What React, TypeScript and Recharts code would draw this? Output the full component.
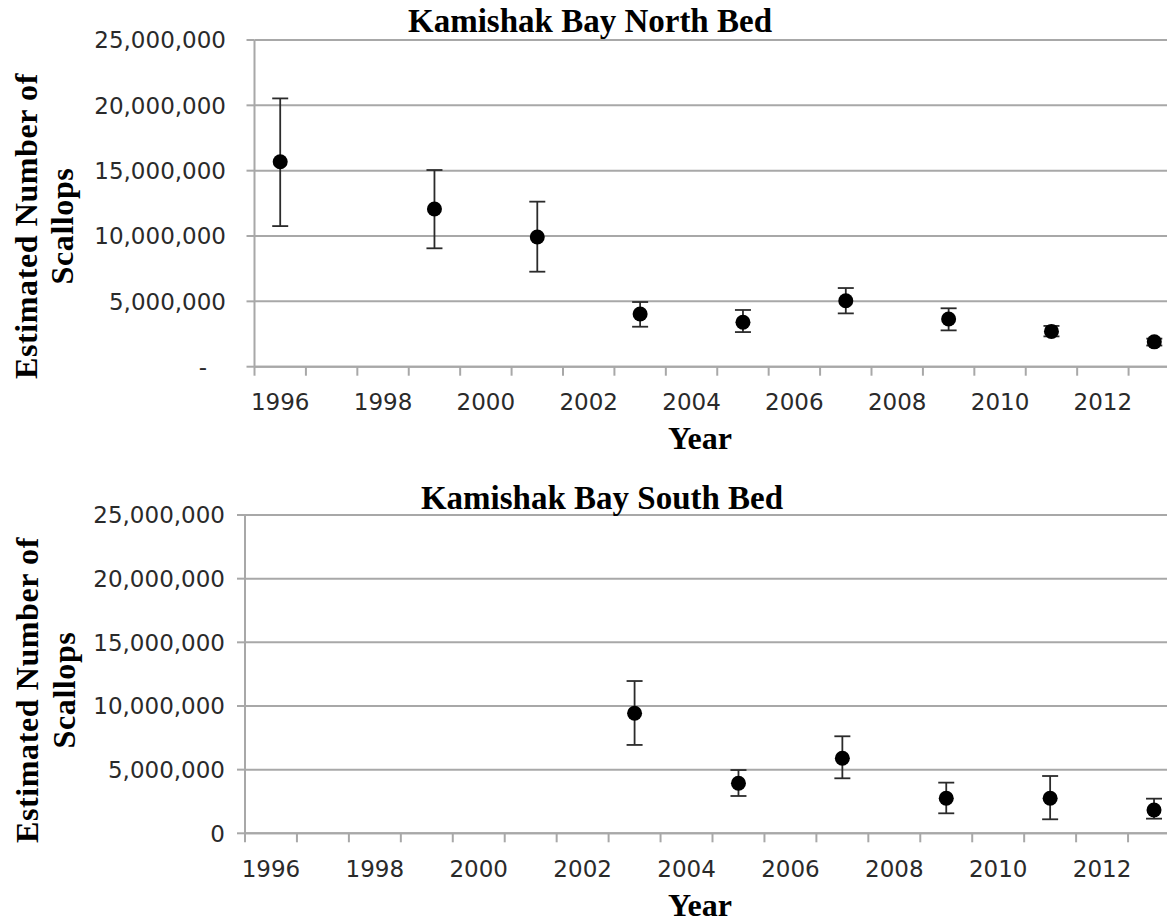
import React from 'react';
import { ScatterChart, Scatter, XAxis, YAxis, CartesianGrid, ErrorBar } from 'recharts';

// Categories (survey years on a category-style axis)
const categoryBounds = [1995.5, 1996.5, 1997.5, 1998.5, 1999.5, 2000.5, 2001.5, 2002.5, 2003.5, 2004.5, 2005.5, 2006.5, 2007.5, 2008.5, 2009.5, 2010.5, 2011.5, 2012.5, 2013.5];
const labelYears = [1996, 1998, 2000, 2002, 2004, 2006, 2008, 2010, 2012];
const yTicks = [0, 5000000, 10000000, 15000000, 20000000, 25000000];

// North Bed
const northYears = [1996, 1999, 2001, 2003, 2005, 2007, 2009, 2011, 2013];
const northEstimate = [15680000, 12070000, 9920000, 4030000, 3400000, 5050000, 3650000, 2700000, 1900000];
const northLower = [10760000, 9060000, 7270000, 3060000, 2650000, 4080000, 2780000, 2320000, 1620000];
const northUpper = [20530000, 15050000, 12630000, 4950000, 4340000, 6020000, 4470000, 3120000, 2150000];

// South Bed
const southYears = [2003, 2005, 2007, 2009, 2011, 2013];
const southEstimate = [9430000, 3930000, 5890000, 2750000, 2750000, 1830000];
const southLower = [6940000, 2930000, 4320000, 1570000, 1100000, 1150000];
const southUpper = [11960000, 4970000, 7620000, 3980000, 4500000, 2720000];

const buildData = (years: number[], est: number[], lo: number[], hi: number[]) =>
  years.map((yr, i) => ({ year: yr, value: est[i], err: [est[i] - lo[i], hi[i] - est[i]] }));

const northData = buildData(northYears, northEstimate, northLower, northUpper);
const southData = buildData(southYears, southEstimate, southLower, southUpper);

const GRID = '#a8a8a8';
const TICK_FONT = { fontFamily: 'DejaVu Sans', fontSize: 23, fill: '#2a2a2a' };
const SERIF = 'Liberation Serif';

const YTick = (props: any) => {
  const { x, y, payload, dashZero } = props;
  const v = payload.value as number;
  const txt = v === 0 ? (dashZero ? '-' : '0') : v.toLocaleString('en-US');
  return (
    <text x={v === 0 && dashZero ? x - 19 : x} y={y} dy="0.36em" textAnchor="end" {...TICK_FONT}>
      {txt}
    </text>
  );
};

const EmptyTick = () => <g />;

const YTitle = (props: any) => {
  const { bx1, bx2, cy } = props;
  return (
    <g>
      <text x={bx1} y={cy} transform={`rotate(-90 ${bx1} ${cy})`} textAnchor="middle" fontFamily={SERIF} fontWeight="bold" fontSize={32} letterSpacing={0.6} fill="#000">
        Estimated Number of
      </text>
      <text x={bx2} y={cy} transform={`rotate(-90 ${bx2} ${cy})`} textAnchor="middle" fontFamily={SERIF} fontWeight="bold" fontSize={32} letterSpacing={0.6} fill="#000">
        Scallops
      </text>
    </g>
  );
};

const FreeText = (props: any) => {
  const { tx, ty, txt, fs } = props;
  return (
    <text x={tx} y={ty} textAnchor="middle" fontFamily={SERIF} fontWeight="bold" fontSize={fs || 32} fill="#000">
      {txt}
    </text>
  );
};

type PanelProps = {
  data: any[];
  height: number;
  marginTop: number;
  yAxisWidth: number;
  labelAxisHeight: number;
  tickMarginY: number;
  dashZero: boolean;
  title: string;
  titleX: number;
  titleY: number;
  yTitleCy: number;
  yearY: number;
  yBx1: number;
  yBx2: number;
};

const Panel = (p: PanelProps) => (
  <ScatterChart
    width={1190}
    height={p.height}
    margin={{ top: p.marginTop, right: 10, left: 0, bottom: 0 }}
  >
    <CartesianGrid horizontal vertical={false} stroke={GRID} strokeWidth={2} xAxisId="axisA" />
    <XAxis
      xAxisId="axisA"
      dataKey="year"
      type="number"
      domain={[1995.5, 2013.5]}
      ticks={categoryBounds}
      interval={0}
      allowDataOverflow
      height={2}
      tick={<EmptyTick />}
      tickSize={9}
      tickLine={{ stroke: GRID, strokeWidth: 2 }}
      axisLine={{ stroke: GRID, strokeWidth: 2 }}
      label={<FreeText tx={p.titleX} ty={p.titleY} txt={p.title} fs={33} />}
    />
    <XAxis
      xAxisId="axisB"
      dataKey="year"
      type="number"
      domain={[1995.5, 2013.5]}
      ticks={labelYears}
      interval={0}
      allowDataOverflow
      height={p.labelAxisHeight}
      axisLine={false}
      tickLine={false}
      tickSize={0}
      tickMargin={25}
      tick={TICK_FONT}
      label={<FreeText tx={700} ty={p.yearY} txt="Year" />}
    />
    <YAxis
      dataKey="value"
      type="number"
      domain={[0, 25000000]}
      ticks={yTicks}
      interval={0}
      width={p.yAxisWidth}
      tickSize={8}
      tickMargin={p.tickMarginY}
      tickLine={{ stroke: GRID, strokeWidth: 2 }}
      axisLine={{ stroke: GRID, strokeWidth: 2 }}
      tick={<YTick dashZero={p.dashZero} />}
      label={<YTitle bx1={p.yBx1} bx2={p.yBx2} cy={p.yTitleCy} />}
    />
    <Scatter
      data={p.data}
      xAxisId="axisA"
      fill="#000"
      isAnimationActive={false}
      shape={(s: any) => <circle cx={s.cx} cy={s.cy} r={7.5} fill="#000" />}
    >
      <ErrorBar dataKey="err" direction="y" width={8} stroke="#2b2b2b" strokeWidth={1.8} />
    </Scatter>
  </ScatterChart>
);

export default function App() {
  return (
    <div
      style={{
        position: 'relative',
        marginLeft: -8,
        marginTop: -8,
        width: 1175,
        height: 923,
        overflow: 'hidden',
        background: '#fff',
      }}
    >
      <div style={{ position: 'absolute', left: 0, top: 0 }}>
        <Panel
          data={northData}
          height={460}
          marginTop={40}
          yAxisWidth={254.5}
          labelAxisHeight={460 - 40 - 326.7 - 2}
          tickMarginY={20.5}
          dashZero
          title="Kamishak Bay North Bed"
          titleX={590}
          titleY={32}
          yTitleCy={226}
          yearY={449}
          yBx1={36.5}
          yBx2={73}
        />
      </div>
      <div style={{ position: 'absolute', left: 0, top: 460 }}>
        <Panel
          data={southData}
          height={463}
          marginTop={55}
          yAxisWidth={245}
          labelAxisHeight={463 - 55 - 318.3 - 2}
          tickMarginY={12}
          dashZero={false}
          title="Kamishak Bay South Bed"
          titleX={602}
          titleY={49}
          yTitleCy={230}
          yearY={456}
          yBx1={38}
          yBx2={75}
        />
      </div>
    </div>
  );
}
